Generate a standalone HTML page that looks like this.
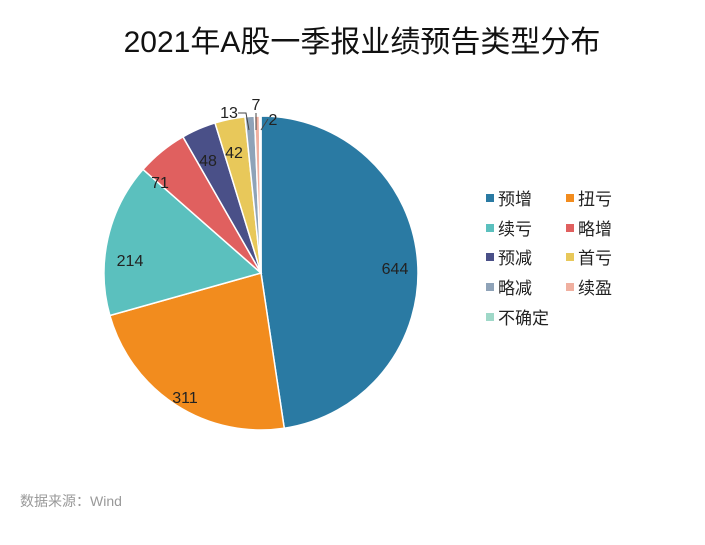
<!DOCTYPE html>
<html><head><meta charset="utf-8"><style>
body{margin:0;background:#fff;width:705px;height:540px;overflow:hidden;font-family:"Liberation Sans","Noto Sans CJK SC",sans-serif}
</style></head><body>
<svg id="s" width="705" height="540" xmlns="http://www.w3.org/2000/svg" style="font-family:'Liberation Sans','Noto Sans CJK SC',sans-serif">
<text x="362" y="52" font-size="30" text-anchor="middle" fill="#111">2021年A股一季报业绩预告类型分布</text>
<g id="pie"></g>
<g font-size="16" fill="#222">
<text x="395" y="274" text-anchor="middle">644</text>
<text x="185" y="403" text-anchor="middle">311</text>
<text x="130" y="266" text-anchor="middle">214</text>
<text x="160" y="188" text-anchor="middle">71</text>
<text x="208" y="166" text-anchor="middle">48</text>
<text x="234" y="158" text-anchor="middle">42</text>
<text x="229" y="118" text-anchor="middle">13</text>
<text x="256" y="110" text-anchor="middle">7</text>
<text x="273" y="125" text-anchor="middle">2</text>
</g>
<g stroke="#444" stroke-width="1" fill="none">
<polyline points="238,113 246,113 249,130"/>
<line x1="256" y1="113" x2="256" y2="130"/>
<polyline points="268,119 261,130"/>
</g>
<g font-size="17" fill="#222">
<rect x="486" y="194" width="8" height="8" fill="#2a7aa3"/><text x="498" y="205">预增</text>
<rect x="566" y="194" width="8" height="8" fill="#f28c1e"/><text x="578" y="205">扭亏</text>
<rect x="486" y="224" width="8" height="8" fill="#5bc0be"/><text x="498" y="235">续亏</text>
<rect x="566" y="224" width="8" height="8" fill="#e0605f"/><text x="578" y="235">略增</text>
<rect x="486" y="253" width="8" height="8" fill="#4a5088"/><text x="498" y="264">预减</text>
<rect x="566" y="253" width="8" height="8" fill="#e8c85a"/><text x="578" y="264">首亏</text>
<rect x="486" y="283" width="8" height="8" fill="#8fa3b8"/><text x="498" y="294">略减</text>
<rect x="566" y="283" width="8" height="8" fill="#f0b0a0"/><text x="578" y="294">续盈</text>
<rect x="486" y="313" width="8" height="8" fill="#9fd8c8"/><text x="498" y="324">不确定</text>
</g>
<text x="20" y="506" font-size="14" fill="#999">数据来源：Wind</text>
</svg>
<script>
var d=[[644,"#2a7aa3"],[311,"#f28c1e"],[214,"#5bc0be"],[71,"#e0605f"],[48,"#4a5088"],[42,"#e8c85a"],[13,"#8fa3b8"],[7,"#f0b0a0"],[2,"#9fd8c8"]];
var t=0;d.forEach(function(x){t+=x[0]});
var cx=261,cy=273,r=157,a=0,h="";
d.forEach(function(x){var b=a+x[0]/t*2*Math.PI;
var x1=cx+r*Math.sin(a),y1=cy-r*Math.cos(a),x2=cx+r*Math.sin(b),y2=cy-r*Math.cos(b);
h+='<path d="M'+cx+','+cy+' L'+x1+','+y1+' A'+r+','+r+' 0 '+((b-a)>Math.PI?1:0)+' 1 '+x2+','+y2+' Z" fill="'+x[1]+'" stroke="#fff" stroke-width="1.5"/>';a=b;});
document.getElementById("pie").innerHTML=h;
</script>
</body></html>
